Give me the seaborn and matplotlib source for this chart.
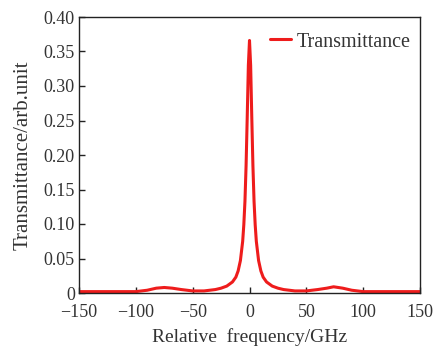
import numpy as np
import pandas as pd
import matplotlib
matplotlib.use('Agg')
import matplotlib.pyplot as plt
import seaborn as sns

# values
freq = [-150, -130, -115, -100, -90, -82, -75, -68, -60, -50, -40, -30, -25, -20,
        -15, -12, -10, -8, -6, -5, -4, -3, -2, -1, 0, 1, 2, 3, 4, 5, 6, 8, 10,
        12, 15, 20, 25, 30, 40, 50, 60, 68, 74, 82, 90, 100, 115, 130, 150]
trans = [0.002, 0.002, 0.002, 0.002, 0.004, 0.007, 0.008, 0.007, 0.005, 0.003, 0.003,
         0.005, 0.007, 0.010, 0.016, 0.023, 0.032, 0.047, 0.075, 0.099, 0.133, 0.185,
         0.255, 0.330, 0.366, 0.330, 0.255, 0.185, 0.133, 0.099, 0.075, 0.047, 0.032,
         0.023, 0.016, 0.010, 0.007, 0.005, 0.003, 0.003, 0.005, 0.007, 0.009, 0.007,
         0.004, 0.002, 0.002, 0.002, 0.002]

df = pd.DataFrame({'freq': freq, 'trans': trans})

sns.set_style('ticks')
plt.rcParams['font.family'] = ['Liberation Serif', 'DejaVu Serif']

fig = plt.figure(figsize=(4.4, 3.46), dpi=100)
ax = fig.add_axes([79 / 440, 1 - 293 / 346, (420 - 79) / 440, (293 - 17) / 346])

sns.lineplot(data=df, x='freq', y='trans', color='#ee1c1c', linewidth=2.2,
             label='Transmittance', ax=ax)

ax.set_xlim(-150, 150)
ax.set_ylim(0, 0.40)
ax.set_xticks([-150, -100, -50, 0, 50, 100, 150])
ax.set_xticklabels(['\u2212150', '\u2212100', '\u221250', '0', '50', '100', '150'])
ax.set_yticks(np.arange(0, 0.41, 0.05))
ax.set_yticklabels(['0'] + ['%.2f' % v for v in np.arange(0.05, 0.41, 0.05)])
ax.tick_params(direction='in', labelsize=13, length=4, width=1, colors='#222222',
               labelcolor='#333333')
ax.tick_params(axis='y', pad=3)
ax.tick_params(axis='x', pad=8)
for s in ax.spines.values():
    s.set_color('#222222')
    s.set_linewidth(1)

ax.set_xlabel('Relative  frequency/GHz', fontsize=14, color='#333333', labelpad=5)
ax.set_ylabel('Transmittance/arb.unit', fontsize=15, color='#333333', labelpad=8)

ax.legend(loc='center right', bbox_to_anchor=(411 / 440, 1 - 42 / 346),
          bbox_transform=fig.transFigure, frameon=False, fontsize=14.5,
          handlelength=1.05, handletextpad=0.3, borderpad=0, borderaxespad=0,
          labelcolor='#333333')

fig.savefig('out.png', dpi=100, facecolor='white')
